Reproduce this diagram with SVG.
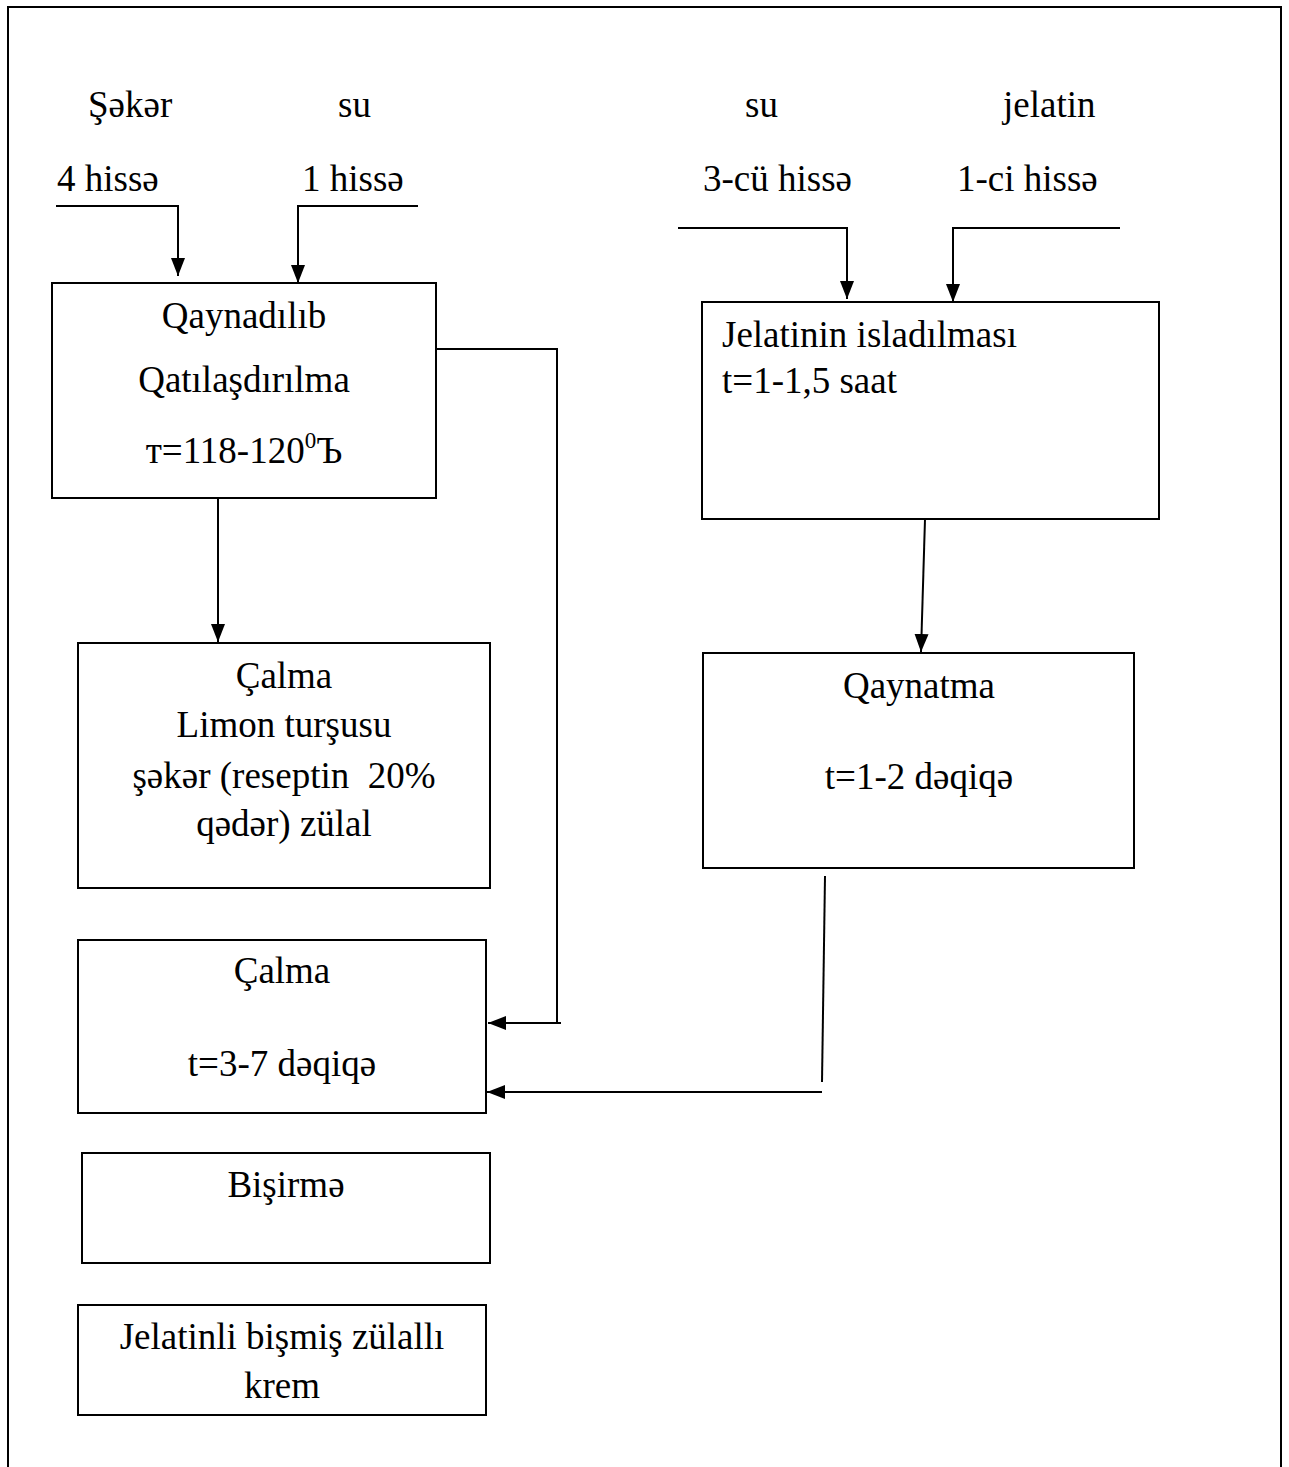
<svg xmlns="http://www.w3.org/2000/svg" width="1289" height="1467" viewBox="0 0 1289 1467">
<style>
text{font-family:"Liberation Serif","Times New Roman",serif;font-size:37px;fill:#000}
.c{text-anchor:middle}
.box{fill:#fff;stroke:#000;stroke-width:2}
.ln{fill:none;stroke:#000;stroke-width:2}
</style>
<defs>
<marker id="ah" markerUnits="userSpaceOnUse" markerWidth="20" markerHeight="16" refX="18" refY="8" orient="auto">
<path d="M0,1 L18,8 L0,15 Z" fill="#000"/>
</marker>
</defs>
<rect width="1289" height="1467" fill="#fff"/>
<path class="ln" d="M8,1467 V7 H1281 V1467"/>
<g id="labels">
<text x="88" y="117">Şəkər</text>
<text x="338" y="117">su</text>
<text x="745" y="117">su</text>
<text x="1003" y="117">jelatin</text>
<text x="57" y="191">4 hissə</text>
<text x="302" y="191">1 hissə</text>
<text x="703" y="191">3-cü hissə</text>
<text x="957" y="191">1-ci hissə</text>
</g>
<g id="connectors">
<path class="ln" d="M56,206 H178 V276" marker-end="url(#ah)"/>
<path class="ln" d="M418,206 H298 V283" marker-end="url(#ah)"/>
<path class="ln" d="M678,228 H847 V299" marker-end="url(#ah)"/>
<path class="ln" d="M1120,228 H953 V302" marker-end="url(#ah)"/>
<path class="ln" d="M218,498 V642" marker-end="url(#ah)"/>
<path class="ln" d="M437,349 H557 V1023"/>
<path class="ln" d="M561,1023 H488" marker-end="url(#ah)"/>
<path class="ln" d="M925,519 L921,652" marker-end="url(#ah)"/>
<path class="ln" d="M825,876 L822,1082"/>
<path class="ln" d="M822,1092 H487" marker-end="url(#ah)"/>
</g>
<g id="n1">
<rect class="box" x="52" y="283" width="384" height="215"/>
<text class="c" x="244" y="328">Qaynadılıb</text>
<text class="c" x="244" y="392">Qatılaşdırılma</text>
<text class="c" x="244" y="463">т=118-120<tspan font-size="23" dy="-15">0</tspan><tspan dy="15">Ъ</tspan></text>
</g>
<g id="n2">
<rect class="box" x="702" y="302" width="457" height="217"/>
<text x="722" y="347">Jelatinin isladılması</text>
<text x="722" y="393">t=1-1,5 saat</text>
</g>
<g id="n3">
<rect class="box" x="78" y="643" width="412" height="245"/>
<text class="c" x="284" y="688">Çalma</text>
<text class="c" x="284" y="737">Limon turşusu</text>
<text class="c" x="284" y="788" xml:space="preserve">şəkər (reseptin  20%</text>
<text class="c" x="284" y="836">qədər) zülal</text>
</g>
<g id="n4">
<rect class="box" x="703" y="653" width="431" height="215"/>
<text class="c" x="919" y="698">Qaynatma</text>
<text class="c" x="919" y="789">t=1-2 dəqiqə</text>
</g>
<g id="n5">
<rect class="box" x="78" y="940" width="408" height="173"/>
<text class="c" x="282" y="983">Çalma</text>
<text class="c" x="282" y="1076">t=3-7 dəqiqə</text>
</g>
<g id="n6">
<rect class="box" x="82" y="1153" width="408" height="110"/>
<text class="c" x="286" y="1197">Bişirmə</text>
</g>
<g id="n7">
<rect class="box" x="78" y="1305" width="408" height="110"/>
<text class="c" x="282" y="1349">Jelatinli bişmiş zülallı</text>
<text class="c" x="282" y="1398">krem</text>
</g>
</svg>
